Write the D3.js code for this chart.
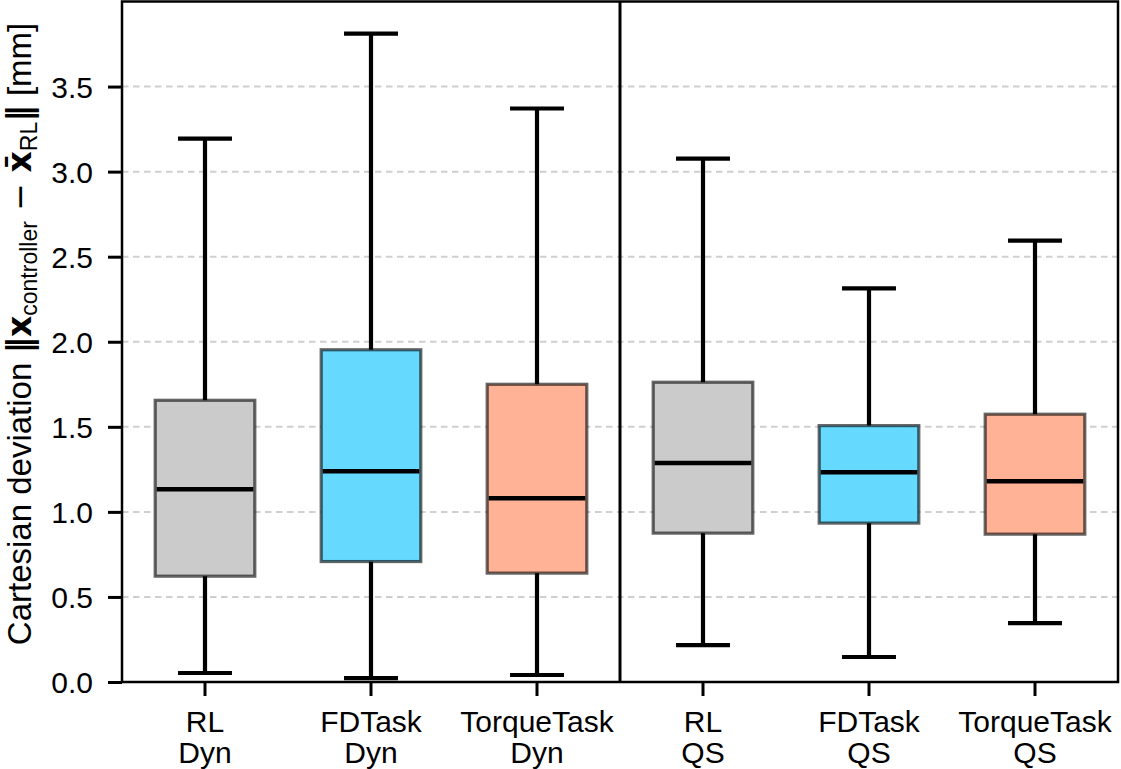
<!DOCTYPE html>
<html>
<head>
<meta charset="utf-8">
<script src="https://cdn.jsdelivr.net/npm/d3@7"></script>
<style>
  body { margin: 0; background: #fff; }
  svg { display: block; font-family: "Liberation Sans", Arial, Helvetica, sans-serif; }
</style>
</head>
<body>
<div class="chartdiv"></div>
<script>
//data
var controllers = ["RL", "FDTask", "TorqueTask", "RL", "FDTask", "TorqueTask"];
var modes = ["Dyn", "Dyn", "Dyn", "QS", "QS", "QS"];
var whiskerLow = [0.053, 0.023, 0.041, 0.217, 0.147, 0.346];
var q1 = [0.622, 0.708, 0.640, 0.875, 0.934, 0.869];
var median = [1.133, 1.239, 1.080, 1.287, 1.233, 1.180];
var q3 = [1.656, 1.953, 1.750, 1.762, 1.507, 1.574];
var whiskerHigh = [3.194, 3.811, 3.371, 3.077, 2.314, 2.595];
var yTicks = [0.0, 0.5, 1.0, 1.5, 2.0, 2.5, 3.0, 3.5];

//box fill colours per controller
var palette = {"RL": "#a9a9a9", "FDTask": "#00bfff", "TorqueTask": "#ff7f50"};

var width = 1121,
    height = 769;
var margin = {top: 1.5, right: 3, bottom: 87, left: 122};
var fontSize = 30;

var svg = d3.select("div.chartdiv")
    .append("svg")
    .attr("width", width)
    .attr("height", height);

var ids = d3.range(controllers.length);

var x = d3.scaleBand()
    .domain(ids)
    .range([margin.left, width - margin.right])
    .padding(0);

var y = d3.scaleLinear()
    .domain([0, 4.0])
    .range([height - margin.bottom, margin.top]);

var boxW = x.bandwidth() * 0.6;
var capW = x.bandwidth() * 0.325;
function cx(i) { return x(i) + x.bandwidth() / 2; }

//dashed horizontal grid
svg.append("g")
    .selectAll("line")
    .data(yTicks.slice(1))
    .enter()
    .append("line")
    .attr("x1", margin.left)
    .attr("x2", width - margin.right)
    .attr("y1", function(d) { return y(d); })
    .attr("y2", function(d) { return y(d); })
    .style("stroke", "#cfcfcf")
    .style("stroke-width", 2)
    .style("stroke-dasharray", "6.5,4.5");

var plot = svg.append("g");

//whiskers
plot.selectAll(".whisker")
    .data(ids)
    .enter()
    .append("line")
    .attr("class", "whisker")
    .attr("x1", cx).attr("x2", cx)
    .attr("y1", function(i) { return y(whiskerLow[i]); })
    .attr("y2", function(i) { return y(whiskerHigh[i]); })
    .style("stroke", "#000")
    .style("stroke-width", 4.2);

//caps
[whiskerLow, whiskerHigh].forEach(function(arr) {
    plot.selectAll(null)
        .data(ids)
        .enter()
        .append("line")
        .attr("x1", function(i) { return cx(i) - capW / 2; })
        .attr("x2", function(i) { return cx(i) + capW / 2; })
        .attr("y1", function(i) { return y(arr[i]); })
        .attr("y2", function(i) { return y(arr[i]); })
        .style("stroke", "#000")
        .style("stroke-width", 4.2);
});

//boxes (white underlay hides the whisker, then translucent fill)
plot.selectAll(".box")
    .data(ids)
    .enter()
    .append("rect")
    .attr("class", "box")
    .attr("x", function(i) { return cx(i) - boxW / 2; })
    .attr("width", boxW)
    .attr("y", function(i) { return y(q3[i]); })
    .attr("height", function(i) { return y(q1[i]) - y(q3[i]); })
    .style("fill", "#fff");

plot.selectAll(".boxfill")
    .data(ids)
    .enter()
    .append("rect")
    .attr("class", "boxfill")
    .attr("x", function(i) { return cx(i) - boxW / 2; })
    .attr("width", boxW)
    .attr("y", function(i) { return y(q3[i]); })
    .attr("height", function(i) { return y(q1[i]) - y(q3[i]); })
    .style("fill", function(i) { return palette[controllers[i]]; })
    .style("fill-opacity", 0.6)
    .style("stroke", "#000")
    .style("stroke-opacity", 0.6)
    .style("stroke-width", 3.2);

//medians
plot.selectAll(".median")
    .data(ids)
    .enter()
    .append("line")
    .attr("class", "median")
    .attr("x1", function(i) { return cx(i) - boxW / 2 + 1.5; })
    .attr("x2", function(i) { return cx(i) + boxW / 2 - 1.5; })
    .attr("y1", function(i) { return y(median[i]); })
    .attr("y2", function(i) { return y(median[i]); })
    .style("stroke", "#000")
    .style("stroke-width", 4.5);

//divider between Dyn and QS
svg.append("line")
    .attr("x1", x(3)).attr("x2", x(3))
    .attr("y1", margin.top).attr("y2", height - margin.bottom)
    .style("stroke", "#000")
    .style("stroke-width", 3);

//frame
svg.append("rect")
    .attr("x", margin.left)
    .attr("y", margin.top)
    .attr("width", width - margin.left - margin.right)
    .attr("height", height - margin.top - margin.bottom)
    .style("fill", "none")
    .style("stroke", "#000")
    .style("stroke-width", 2.5);

//y axis
var yAxis = svg.append("g")
    .attr("transform", "translate(" + margin.left + ",0)")
    .call(d3.axisLeft(y).tickValues(yTicks).tickFormat(d3.format(".1f")).tickSize(14).tickPadding(15));
yAxis.select(".domain").remove();
yAxis.selectAll(".tick line").style("stroke", "#000").style("stroke-width", 3);
yAxis.selectAll(".tick text")
    .style("font-size", fontSize + "px")
    .style("fill", "#000")
    .attr("dy", "0.36em");

//x axis
var xAxis = svg.append("g")
    .attr("transform", "translate(0," + (height - margin.bottom) + ")")
    .call(d3.axisBottom(x).tickSize(14).tickFormat(""));
xAxis.select(".domain").remove();
xAxis.selectAll(".tick line").style("stroke", "#000").style("stroke-width", 3);

var xlab = svg.append("g").selectAll("text")
    .data(ids)
    .enter()
    .append("text")
    .attr("text-anchor", "middle")
    .attr("x", cx)
    .attr("y", 732)
    .style("font-size", fontSize + "px")
    .style("fill", "#000");
xlab.append("tspan").attr("x", cx).text(function(i) { return controllers[i]; });
xlab.append("tspan").attr("x", cx).attr("dy", 31).text(function(i) { return modes[i]; });

//y label with norm expression
var ylab = svg.append("text")
    .attr("transform", "translate(31," + 334 + ") rotate(-90)")
    .attr("text-anchor", "middle")
    .style("font-size", "33px")
    .style("fill", "#000");
ylab.append("tspan").text("Cartesian deviation ");
ylab.append("tspan").style("font-family", "DejaVu Sans").style("font-weight", "bold").text("\u2016");
ylab.append("tspan").style("font-family", "DejaVu Sans").style("font-weight", "bold").text("x");
ylab.append("tspan").attr("dy", 6).style("font-size", "23px").text("controller");
ylab.append("tspan").attr("dy", -6).style("font-family", "DejaVu Sans").text(" \u2212 ");
ylab.append("tspan").style("font-family", "DejaVu Sans").style("font-weight", "bold").text("x\u0304");
ylab.append("tspan").attr("dy", 6).style("font-size", "23px").text("RL");
ylab.append("tspan").attr("dy", -6).style("font-family", "DejaVu Sans").style("font-weight", "bold").text("\u2016");
ylab.append("tspan").text(" [mm]");
</script>
</body>
</html>
